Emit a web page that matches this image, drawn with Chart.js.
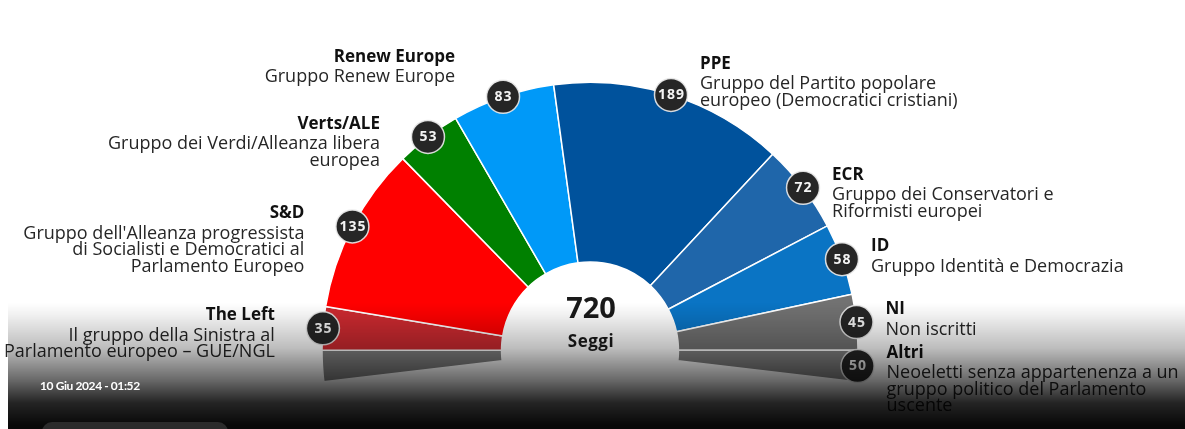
<!DOCTYPE html>
<html lang="it">
<head>
<meta charset="utf-8">
<title>Seggi Parlamento europeo</title>
<script src="https://cdn.jsdelivr.net/npm/chart.js@4.4.1/dist/chart.umd.min.js"></script>
<style>
  html, body { margin: 0; padding: 0; background: #fff; }
  #box { position: relative; width: 1185px; height: 429px; overflow: hidden; background: #fff; }
  #shade {
    position: absolute; left: 8px; right: 0; top: 303px; height: 126px; pointer-events: none;
    background: linear-gradient(to bottom, rgba(0,0,0,0) 0px, rgba(0,0,0,0.06) 12px, rgba(0,0,0,0.26) 45px,
      rgba(0,0,0,0.6) 78px, rgba(0,0,0,0.86) 100px, rgba(0,0,0,0.97) 122px);
  }
  #stamp { position: absolute; left: 40px; top: 378px; color: #fff; font: bold 12px Lato, sans-serif; letter-spacing: -0.4px; }
  #btn { position: absolute; left: 42px; top: 422px; width: 186px; height: 30px; border-radius: 10px; background: #2b2b2b; }
</style>
</head>
<body>
<div id="box">
  <canvas id="seggiChart"></canvas>
  <div id="shade"></div>
  <div id="stamp">10 Giu 2024 - 01:52</div>
  <div id="btn"></div>
</div>
<script>
// groups in order round the hemicycle, left to right
const gruppi = ['The Left', 'S&D', 'Verts/ALE', 'Renew Europe', 'PPE', 'ECR', 'ID', 'NI', 'Altri'];
const descrizioni = [
  ['Il gruppo della Sinistra al', 'Parlamento europeo – GUE/NGL'],
  ["Gruppo dell'Alleanza progressista", 'di Socialisti e Democratici al', 'Parlamento Europeo'],
  ['Gruppo dei Verdi/Alleanza libera', 'europea'],
  ['Gruppo Renew Europe'],
  ['Gruppo del Partito popolare', 'europeo (Democratici cristiani)'],
  ['Gruppo dei Conservatori e', 'Riformisti europei'],
  ['Gruppo Identità e Democrazia'],
  ['Non iscritti'],
  ['Neoeletti senza appartenenza a un', 'gruppo politico del Parlamento', 'uscente']
];
const seggi = [35, 135, 53, 83, 189, 72, 58, 45, 50];
const colori = ['#cc2a30', '#ff0000', '#008000', '#0099f8', '#00529c', '#1f66aa', '#0a74c4', '#727272', '#808080'];

// labels that sit higher than the rest
const spostaY = { 'Renew Europe': -27, 'PPE': -18 };

// "Altri" is drawn half at each end of the arc, the badge only on the right half
const ultimo = seggi.length - 1;
const anello = [seggi[ultimo] / 2].concat(seggi.slice(0, ultimo), [seggi[ultimo] / 2]);
const coloriAnello = [colori[ultimo]].concat(colori.slice(0, ultimo), [colori[ultimo]]);
const gruppoDi = [-1].concat(seggi.slice(0, ultimo).map(function (v, i) { return i; }), [ultimo]);
const totale = seggi.reduce(function (a, b) { return a + b; }, 0);

const FONT = '"Open Sans", sans-serif';

const etichette = {
  id: 'etichette',
  afterDatasetsDraw(chart) {
    const ctx = chart.ctx;
    const archi = chart.getDatasetMeta(0).data;
    ctx.save();
    archi.forEach(function (arco, j) {
      const g = gruppoDi[j];
      if (g < 0) return;
      const p = arco.getProps(['x', 'y', 'startAngle', 'endAngle', 'outerRadius'], true);
      const mid = (p.startAngle + p.endAngle) / 2;
      const bx = p.x + Math.cos(mid) * p.outerRadius;
      const by = p.y + Math.sin(mid) * p.outerRadius;

      // badge
      ctx.beginPath();
      ctx.arc(bx, by, 16.5, 0, Math.PI * 2);
      ctx.fillStyle = '#262626';
      ctx.fill();
      ctx.lineWidth = 1.5;
      ctx.strokeStyle = 'rgba(235,235,235,0.9)';
      ctx.stroke();
      ctx.fillStyle = '#f4f4f4';
      ctx.font = 'bold 14px ' + FONT;
      ctx.letterSpacing = '1px';
      ctx.textAlign = 'center';
      ctx.textBaseline = 'middle';
      ctx.fillText(String(seggi[g]), bx + 0.5, by + 0.5);
      ctx.letterSpacing = '0px';

      // name and description
      const destra = Math.cos(mid) >= 0;
      const tx = destra ? bx + 29 : bx - 48;
      const dy = spostaY[gruppi[g]] || 0;
      ctx.textAlign = destra ? 'left' : 'right';
      ctx.textBaseline = 'alphabetic';
      ctx.fillStyle = '#111';
      ctx.font = 'bold 17px ' + FONT;
      ctx.fillText(gruppi[g], tx, by - 8 + dy);
      ctx.fillStyle = '#262626';
      ctx.font = '18px ' + FONT;
      descrizioni[g].forEach(function (riga, k) {
        ctx.fillText(riga, tx, by + 12.5 + dy + k * 16.3);
      });
    });

    // centre
    const c = archi[0];
    ctx.textAlign = 'center';
    ctx.textBaseline = 'alphabetic';
    ctx.fillStyle = '#1a1a1a';
    ctx.font = 'bold 29px ' + FONT;
    ctx.fillText(String(totale), c.x + 1, c.y - 32);
    ctx.font = 'bold 17px ' + FONT;
    ctx.letterSpacing = '0.5px';
    ctx.fillText('Seggi', c.x + 1, c.y - 3);
    ctx.restore();
  }
};

const ctx1 = document.getElementById('seggiChart').getContext('2d');
const config = {
  type: 'doughnut',
  data: {
    labels: ['Altri'].concat(gruppi),
    datasets: [{
      data: anello,
      backgroundColor: coloriAnello,
      borderColor: '#ffffff',
      borderWidth: 1.5
    }]
  },
  options: {
    responsive: true,
    maintainAspectRatio: false,
    animation: false,
    rotation: -96.7,
    circumference: 193.4,
    radius: 268,
    cutout: '33%',
    layout: { padding: { top: 35, right: 5 } },
    plugins: {
      legend: { display: false },
      tooltip: { enabled: false }
    }
  },
  plugins: [etichette]
};
const seggiChart = new Chart(ctx1, config);
</script>
</body>
</html>
